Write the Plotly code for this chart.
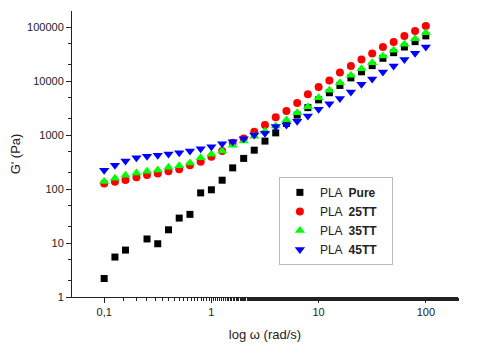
import plotly.graph_objects as go

omega = [0.1, 0.126, 0.158, 0.2, 0.251, 0.316, 0.398, 0.501, 0.631, 0.794,
         1, 1.26, 1.58, 2, 2.51, 3.16, 3.98, 5.01, 6.31, 7.94,
         10, 12.6, 15.8, 20, 25.1, 31.6, 39.8, 50.1, 63.1, 79.4, 100]

pla_pure = [2.2, 5.5, 7.4, None, 11.9, 9.7, 17.6, 29, 34, 85,
            97, 146, 247, 370, 526, 775, 1100, 1650, 2350, 3230,
            4500, 6100, 8330, 11500, 14900, 19400, 26500, 33700, 42900, 53900, 69000]

pla_25tt = [127, 136, 148, 166, 183, 195, 215, 234, 275, 320,
            398, 505, 720, 870, 1150, 1540, 2150, 2790, 3950, 5690,
            7770, 10300, 14500, 19000, 25300, 32600, 42900, 53100, 69000, 85000, 105000]

pla_35tt = [138, 158, 181, 198, 215, 225, 255, 270, 303, 380,
            440, 505, 650, 775, 955, 1180, 1470, 1900, 2600, 3350,
            4900, 6750, 9350, 12800, 17000, 22000, 29200, 37400, 48300, 61200, 79000]

pla_45tt = [224, 277, 330, 380, 407, 425, 448, 470, 505, 560,
            610, 690, 750, 855, 1000, 1080, 1445, 1540, 1800, 2260,
            3000, 3810, 4790, 6320, 8750, 11000, 14700, 19000, 25300, 33000, 42900]

x_tickvals = [0.1, 1, 10, 100]
x_ticktext = ["0,1", "1", "10", "100"]
y_tickvals = [1, 10, 100, 1000, 10000, 100000]
y_ticktext = ["1", "10", "100", "1000", "10000", "100000"]

pad = "\u00a0\u00a0\u00a0"
series = [
    ("PLA  <b>Pure</b>" + pad, pla_pure, "square", "black", 7),
    ("PLA  <b>25TT</b>" + pad, pla_25tt, "circle", "#ff0000", 8),
    ("PLA  <b>35TT</b>" + pad, pla_35tt, "triangle-up", "#00ff00", 9),
    ("PLA  <b>45TT</b>" + pad, pla_45tt, "triangle-down", "#0000ff", 9),
]

fig = go.Figure()
for name, vals, sym, col, sz in series:
    fig.add_trace(go.Scatter(
        x=omega, y=vals, mode="markers", name=name,
        marker=dict(symbol=sym, color=col, size=sz, line=dict(width=0)),
    ))

axis_common = dict(
    type="log", showline=True, linecolor="#222", linewidth=1,
    ticks="outside", ticklen=5, tickcolor="#222", showgrid=False, zeroline=False,
    minor=dict(ticks="outside", ticklen=3, tickcolor="#222", showgrid=False),
    tickfont=dict(family="Liberation Sans", size=11, color="#222"),
    automargin=False,
)

fig.update_layout(
    width=482, height=354,
    margin=dict(l=64, r=32, t=3, b=65),
    paper_bgcolor="white", plot_bgcolor="white",
    font=dict(family="Liberation Sans", color="#222"),
    xaxis=dict(**axis_common, range=[-1.30, 2.30],
               tickvals=x_tickvals, ticktext=x_ticktext,
               title=dict(text="log ω (rad/s)", font=dict(size=13), standoff=12)),
    yaxis=dict(**axis_common, range=[0, 5.30],
               tickvals=y_tickvals, ticktext=y_ticktext,
               title=dict(text="G' (Pa)", font=dict(size=13), standoff=4)),
    legend=dict(x=0.536, y=0.42, xanchor="left", yanchor="top",
                bordercolor="#bbb", borderwidth=1, bgcolor="white",
                font=dict(family="Liberation Sans", size=12, color="#222"),
                tracegroupgap=0, itemwidth=30),
    showlegend=True,
)

fig.write_html("out.html")
